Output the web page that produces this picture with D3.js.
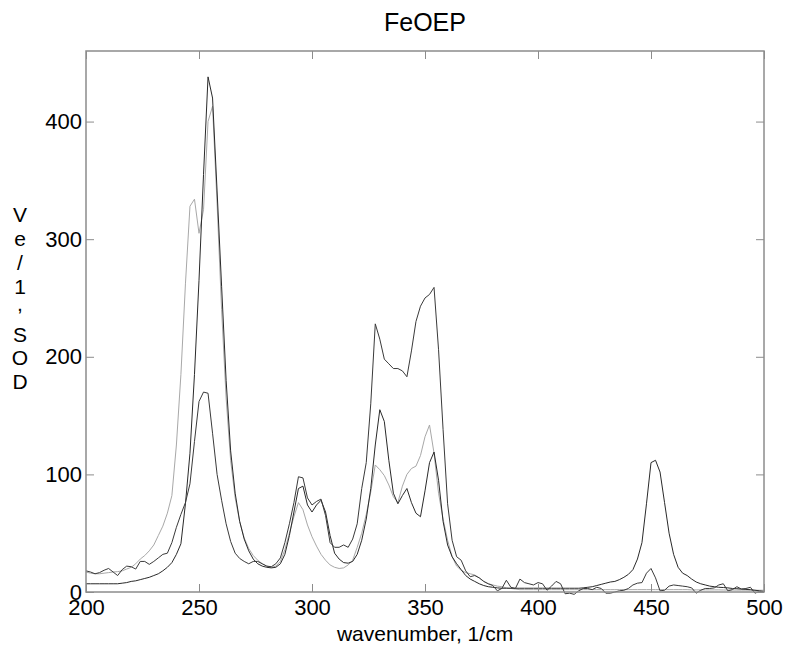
<!DOCTYPE html>
<html>
<head>
<meta charset="utf-8">
<script src="https://cdn.jsdelivr.net/npm/d3@7"></script>
<style>
  body { margin: 0; background: #fff; }
  text { font-family: "Liberation Sans", Arial, Helvetica, sans-serif; }
</style>
</head>
<body>
<div id="chart"></div>
<script>
// wavenumber grid, 1/cm
const wavenumber = [
    200, 202, 204, 206, 208, 210, 212, 214, 216, 218,
    220, 222, 224, 226, 228, 230, 232, 234, 236, 238,
    240, 242, 244, 246, 248, 250, 252, 254, 256, 258,
    260, 262, 264, 266, 268, 270, 272, 274, 276, 278,
    280, 282, 284, 286, 288, 290, 292, 294, 296, 298,
    300, 302, 304, 306, 308, 310, 312, 314, 316, 318,
    320, 322, 324, 326, 328, 330, 332, 334, 336, 338,
    340, 342, 344, 346, 348, 350, 352, 354, 356, 358,
    360, 362, 364, 366, 368, 370, 372, 374, 376, 378,
    380, 382, 384, 386, 388, 390, 392, 394, 396, 398,
    400, 402, 404, 406, 408, 410, 412, 414, 416, 418,
    420, 422, 424, 426, 428, 430, 432, 434, 436, 438,
    440, 442, 444, 446, 448, 450, 452, 454, 456, 458,
    460, 462, 464, 466, 468, 470, 472, 474, 476, 478,
    480, 482, 484, 486, 488, 490, 492, 494, 496, 498,
    500
];

// smooth dark curve
const dosSmooth = [
    7, 7, 7, 7, 7, 7, 7, 7, 7.5, 8,
    9, 9.5, 10.5, 11.5, 12.5, 14, 15.5, 18, 21, 25,
    32, 41, 75, 118, 185, 265, 355, 438, 420, 341,
    260, 180, 120, 84, 60, 45, 35, 28, 24, 22,
    21, 20.5, 21, 24, 32, 48, 68, 88, 90, 74,
    68, 74, 78, 68, 48, 33, 28, 25, 24.5, 26,
    32, 44, 62, 88, 125, 155, 145, 112, 84, 75,
    82, 88, 76, 67, 64, 86, 110, 119, 95, 60,
    40, 30, 24, 19, 14, 11, 9, 7, 5.5, 4.5,
    4, 3.5, 3.2, 3.2, 3.2, 3.2, 3.2, 3.2, 3.2, 3.2,
    3.2, 3.2, 3.2, 3.2, 3.2, 3.2, 3.2, 3.2, 3.2, 3.2,
    3.5, 4, 4.5, 5.5, 6.5, 7.5, 8.5, 9, 10.5, 12.5,
    15, 19, 28, 42, 75, 110, 112, 102, 76, 50,
    32, 21, 16, 14, 11, 8.5, 7, 6, 5, 4.5,
    4, 3.8, 3.5, 3, 2.8, 2.5, 2.2, 2, 1.5, 1,
    0.5
];

// noisy dark curve
const dosNoisy = [
    18, 17, 15.5, 16.5, 18.5, 20, 17, 14, 19, 22,
    21.5, 19.5, 26, 26, 23.5, 26, 29, 32, 33, 42,
    55, 66, 76, 92, 128, 162, 170, 169, 135, 100,
    78, 58, 43, 33, 28.5, 26, 24, 26, 26, 24,
    22, 21.5, 24, 29, 42, 58, 76, 98, 97, 80,
    74, 77, 79, 65, 42, 38, 38, 40, 38, 45,
    58, 88, 110, 160, 228, 215, 198, 194, 190, 190,
    188, 183, 205, 230, 243, 250, 253, 259, 206, 138,
    75, 44, 30, 27, 18, 13, 14, 12, 9, 7,
    5.5, 1, 3, 10, 4, 3, 11, 8, 7, 6,
    8, 7, 1.5, 5, 9, 7, -1.5, -1, -2, 1,
    3, 3, 2, 4, 3, -1, -1, 0, 1, 1.5,
    3, 6, 7.5, 8, 16, 20, 12, 1, 1.5, 5,
    6, 5.5, 5, 4.5, 3.5, -1, 1.5, 3, 3, 3.5,
    6, 7, 1, 2, 4.5, 2.5, 3, 4, -1, 0.5,
    0
];

// light grey curve
const dosGrey = [
    17, 16, 15.5, 15.5, 16, 16.5, 17, 17.3, 18, 19.5,
    21, 24, 28, 31, 35, 40, 48, 56, 67, 82,
    125, 185, 262, 328, 334, 305, 325, 400, 413, 330,
    240, 165, 112, 80, 60, 46, 37, 31, 27, 24,
    22, 21, 22, 26, 36, 50, 64, 76, 70, 57,
    47, 39, 32, 27, 23, 21, 20, 20.5, 23, 27,
    38, 50, 66, 85, 108, 104, 99, 91, 81, 76,
    90, 100, 105, 107, 116, 132, 142, 118, 84, 62,
    44, 30, 22, 18.5, 16.5, 15.5, 14.5, 12, 9, 7,
    6, 5, 4.5, 3.5, 3, 2.5, 2, 2, 2, 2,
    2, 2, 2, 2, 2, 2, 2, 2, 2, 2,
    2, 2, 2, 2, 2, 2, 2, 2, 2, 2,
    2, 2, 2, 2, 2, 2, 2, 2, 2, 2,
    2, 2, 2, 2, 1.8, 1.8, 1.8, 1.8, 1.8, 1.8,
    1.8, 1.7, 1.7, 1.7, 1.6, 1.6, 1.6, 1.5, 1.5, 1.5,
    1.5
];

const xTicks = [200, 250, 300, 350, 400, 450, 500];
const yTicks = [0, 100, 200, 300, 400];
const yLabelChars = ["V", "e", "/", "1", ",", "S", "O", "D"];

let margin = { top: 51, right: 24, bottom: 56, left: 86 },
    width = 788 - margin.left - margin.right,
    height = 648 - margin.top - margin.bottom;

const svg = d3.select("#chart")
    .append("svg")
    .attr("width", 788)
    .attr("height", 648);

const g = svg.append("g")
    .attr("transform", `translate(${margin.left},${margin.top})`);

const x = d3.scaleLinear().domain([200, 500]).range([0, width]);
const y = d3.scaleLinear().domain([0, 460]).range([height, 0]);

const frameColor = "#8c8c8c";
const tickLen = 8;

// lines
const series = [
    { values: dosGrey, color: "#a8a8a8" },
    { values: dosSmooth, color: "#2a2a2a" },
    { values: dosNoisy, color: "#3a3a3a" }
];

const line = d3.line()
    .x((d, i) => x(wavenumber[i]))
    .y(d => y(d));

g.append("g")
    .selectAll("path")
    .data(series)
    .join("path")
    .attr("fill", "none")
    .attr("stroke", d => d.color)
    .attr("stroke-width", 1)
    .attr("d", d => line(d.values));

// axes, ticks inward on all four sides
const xBottom = g.append("g")
    .attr("transform", `translate(0,${height})`)
    .call(d3.axisBottom(x).tickValues(xTicks).tickSizeInner(-tickLen).tickSizeOuter(0).tickPadding(7));
const xTop = g.append("g")
    .call(d3.axisTop(x).tickValues(xTicks).tickSizeInner(-tickLen).tickSizeOuter(0).tickFormat(""));
const yLeft = g.append("g")
    .call(d3.axisLeft(y).tickValues(yTicks).tickSizeInner(-tickLen).tickSizeOuter(0).tickPadding(4));
const yRight = g.append("g")
    .attr("transform", `translate(${width},0)`)
    .call(d3.axisRight(y).tickValues(yTicks).tickSizeInner(-tickLen).tickSizeOuter(0).tickFormat(""));

[xBottom, xTop, yLeft, yRight].forEach(a => {
    a.select(".domain").remove();
    a.selectAll(".tick line").attr("stroke", frameColor);
    a.selectAll(".tick text")
        .attr("fill", "#000")
        .style("font-size", "22px");
});

g.append("rect")
    .attr("width", width)
    .attr("height", height)
    .attr("fill", "none")
    .attr("stroke", frameColor)
    .attr("stroke-width", 1.5);

// title
svg.append("text")
    .attr("x", margin.left + width / 2)
    .attr("y", 31)
    .attr("text-anchor", "middle")
    .style("font-size", "25px")
    .text("FeOEP");

// x label
svg.append("text")
    .attr("x", margin.left + width / 2)
    .attr("y", 641)
    .attr("text-anchor", "middle")
    .style("font-size", "21px")
    .text("wavenumber, 1/cm");

// y label, stacked characters
svg.append("g")
    .selectAll("text")
    .data(yLabelChars)
    .join("text")
    .attr("x", 20)
    .attr("y", (d, i) => 222 + i * 23.9 - (d === "," ? 7 : 0))
    .attr("text-anchor", "middle")
    .style("font-size", "21px")
    .text(d => d);
</script>
</body>
</html>
